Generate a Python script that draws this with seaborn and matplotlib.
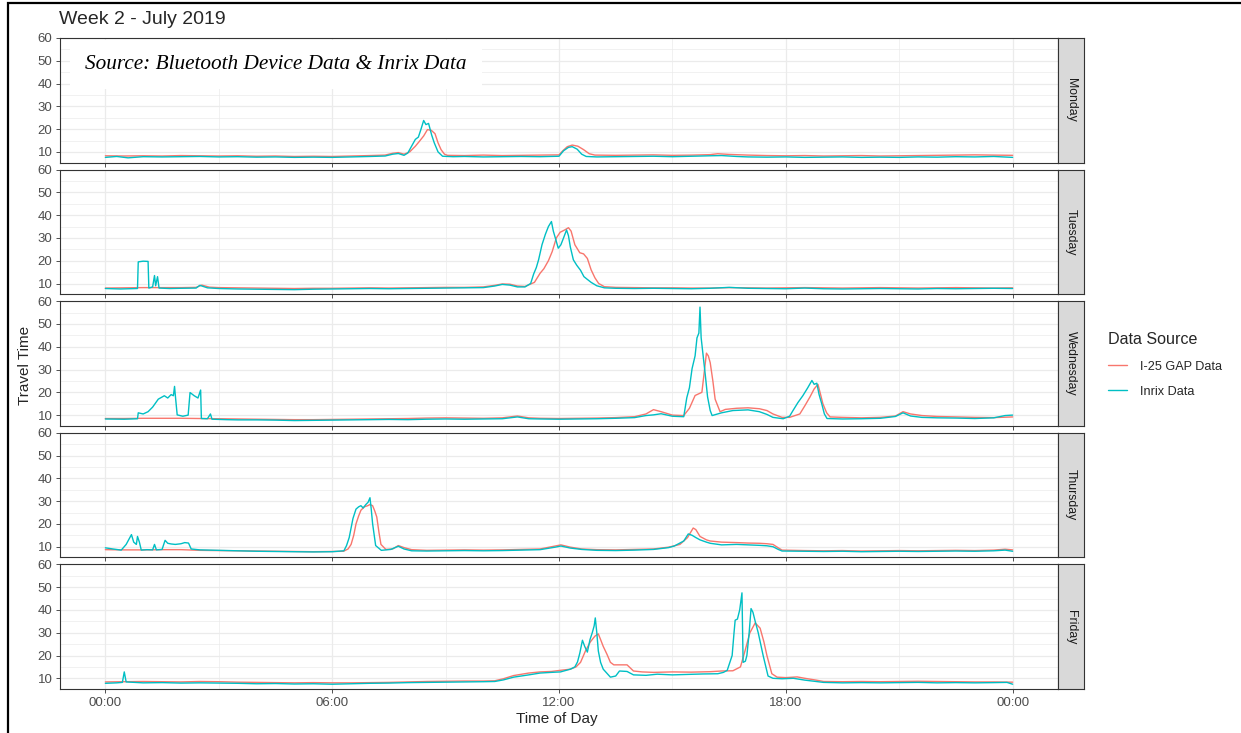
import pandas as pd
import numpy as np
import seaborn as sns
import matplotlib.pyplot as plt
from matplotlib.lines import Line2D
from matplotlib.patches import Rectangle

#%% data (hour of day, travel time in minutes)

days = ["Monday", "Tuesday", "Wednesday", "Thursday", "Friday"]
sources = ["I-25 GAP Data", "Inrix Data"]
palette = ["#F8766D", "#00BFC4"]
x_ticks = [0, 6, 12, 18, 24]
x_tick_labels = ["00:00", "06:00", "12:00", "18:00", "00:00"]
y_ticks = [10, 20, 30, 40, 50, 60]

mon_gap = [(0, 8.3), (0.5, 8.2), (1, 8.3), (1.5, 8.2), (2, 8.4), (2.5, 8.3), (3, 8.2), (3.5, 8.3),
           (4, 8.1), (4.5, 8.2), (5, 8.0), (5.5, 8.1), (6, 8.0), (6.5, 8.2), (7, 8.4), (7.4, 8.6),
           (7.6, 9.4), (7.75, 9.7), (7.9, 9.0), (8.05, 10.0), (8.2, 12.5), (8.3, 14.5), (8.42, 17.0),
           (8.52, 19.8), (8.62, 19.5), (8.72, 18.0), (8.8, 14.0), (8.88, 11.0), (8.97, 9.0), (9.05, 8.5),
           (9.5, 8.4), (10, 8.6), (10.5, 8.4), (11, 8.5), (11.5, 8.6), (12.0, 8.7), (12.1, 10.5),
           (12.22, 12.3), (12.35, 13.0), (12.5, 12.5), (12.65, 11.0), (12.8, 9.2), (12.95, 8.6),
           (13.5, 8.5), (14, 8.6), (14.5, 8.7), (15, 8.5), (15.5, 8.6), (16, 8.8), (16.2, 9.2),
           (16.5, 8.9), (17, 8.6), (17.5, 8.4), (18, 8.3), (18.5, 8.4), (19, 8.2), (19.5, 8.3),
           (20, 8.4), (20.5, 8.2), (21, 8.3), (21.5, 8.4), (22, 8.5), (22.5, 8.6), (23, 8.7),
           (23.5, 8.6), (24, 8.5)]
mon_inrix = [(0, 7.6), (0.3, 8.0), (0.6, 7.4), (1, 7.9), (1.5, 7.8), (2, 7.9), (2.5, 8.0), (3, 7.8),
             (3.5, 7.9), (4, 7.7), (4.5, 7.8), (5, 7.6), (5.5, 7.7), (6, 7.6), (6.5, 7.8), (7, 8.0),
             (7.4, 8.2), (7.6, 9.0), (7.75, 9.3), (7.9, 8.5), (8.0, 9.5), (8.1, 12.5), (8.2, 15.5),
             (8.28, 16.5), (8.35, 20.0), (8.42, 23.8), (8.48, 22.0), (8.55, 22.5), (8.63, 17.5),
             (8.7, 14.0), (8.8, 10.0), (8.92, 8.1), (9.2, 7.9), (9.5, 8.0), (10, 7.8), (10.5, 7.9),
             (11, 8.0), (11.5, 7.9), (12.0, 8.1), (12.12, 10.5), (12.25, 12.0), (12.35, 12.3),
             (12.48, 11.2), (12.6, 9.0), (12.72, 8.0), (13, 7.8), (13.5, 7.9), (14, 8.0), (14.5, 8.1),
             (15, 7.9), (15.5, 8.1), (16, 8.3), (16.3, 8.4), (16.7, 8.0), (17, 7.8), (17.5, 7.7),
             (18, 7.8), (18.5, 7.6), (19, 7.7), (19.5, 7.8), (20, 7.6), (20.5, 7.7), (21, 7.6),
             (21.5, 7.8), (22, 7.7), (22.5, 7.9), (23, 7.8), (23.5, 8.0), (24, 7.6)]

tue_gap = [(0, 8.0), (0.5, 8.1), (1, 8.2), (1.5, 8.2), (2, 8.2), (2.4, 8.3), (2.55, 9.3), (2.75, 8.4),
           (3, 8.2), (3.5, 8.1), (4, 8.0), (4.5, 7.9), (5, 7.8), (5.5, 7.9), (6, 7.9), (6.5, 8.0),
           (7, 8.1), (7.5, 8.0), (8, 8.1), (8.5, 8.2), (9, 8.3), (9.5, 8.3), (10, 8.5), (10.3, 9.2),
           (10.5, 9.8), (10.7, 9.7), (10.9, 8.9), (11.1, 8.7), (11.35, 10.5), (11.5, 14.5),
           (11.6, 16.5), (11.72, 20.0), (11.82, 24.0), (11.93, 30.0), (12.03, 32.5), (12.15, 33.5),
           (12.25, 34.5), (12.32, 33.0), (12.42, 27.0), (12.55, 23.5), (12.65, 23.0), (12.75, 21.0),
           (12.85, 16.0), (12.95, 12.5), (13.05, 10.0), (13.2, 8.6), (13.5, 8.3), (14, 8.2),
           (14.5, 8.1), (15, 8.1), (15.5, 8.0), (16, 8.0), (16.5, 8.2), (17, 8.1), (17.5, 8.0),
           (18, 8.1), (18.5, 8.2), (19, 8.1), (19.5, 8.0), (20, 8.1), (20.5, 8.2), (21, 8.1),
           (21.5, 8.0), (22, 8.1), (22.5, 8.2), (23, 8.1), (23.5, 8.0), (24, 8.1)]
tue_inrix = [(0, 7.8), (0.4, 7.6), (0.85, 7.8), (0.87, 19.5), (1.0, 19.8), (1.13, 19.7), (1.15, 8.0),
             (1.25, 8.5), (1.3, 13.5), (1.33, 9.0), (1.38, 13.0), (1.42, 8.0), (1.7, 7.8), (2.0, 7.9),
             (2.4, 8.0), (2.5, 9.2), (2.7, 8.1), (3, 7.8), (3.5, 7.6), (4, 7.5), (4.5, 7.4), (5, 7.3),
             (5.5, 7.5), (6, 7.6), (6.5, 7.7), (7, 7.8), (7.5, 7.7), (8, 7.8), (8.5, 7.9), (9, 8.0),
             (9.5, 8.1), (10, 8.2), (10.3, 8.9), (10.5, 9.6), (10.7, 9.3), (10.9, 8.5), (11.1, 8.5),
             (11.25, 10.0), (11.33, 14.2), (11.4, 17.0), (11.46, 20.4), (11.55, 27.0), (11.64, 31.6),
             (11.72, 35.0), (11.8, 37.2), (11.85, 33.0), (11.92, 29.0), (11.98, 25.5), (12.05, 27.0),
             (12.12, 30.0), (12.2, 33.5), (12.25, 31.0), (12.3, 26.0), (12.38, 20.4), (12.47, 18.0),
             (12.57, 15.8), (12.66, 13.0), (12.75, 11.8), (12.85, 10.5), (13.0, 9.0), (13.2, 8.1),
             (13.5, 7.9), (14, 7.8), (14.5, 7.9), (15, 7.8), (15.5, 7.7), (16, 7.9), (16.5, 8.3),
             (17, 7.9), (17.5, 7.8), (18, 7.7), (18.5, 8.0), (19, 7.7), (19.5, 7.6), (20, 7.7),
             (20.5, 7.8), (21, 7.7), (21.5, 7.6), (22, 7.8), (22.5, 7.7), (23, 7.8), (23.5, 7.9),
             (24, 7.8)]

wed_gap = [(0, 8.5), (0.5, 8.5), (1, 8.6), (1.5, 8.6), (2, 8.6), (2.5, 8.5), (3, 8.4), (3.5, 8.3),
           (4, 8.2), (4.5, 8.1), (5, 8.0), (5.5, 8.0), (6, 8.1), (6.5, 8.2), (7, 8.3), (7.5, 8.4),
           (8, 8.5), (8.5, 8.7), (9, 8.8), (9.5, 8.7), (10, 8.6), (10.5, 8.8), (10.9, 9.6), (11.2, 8.8),
           (11.5, 8.6), (12, 8.5), (12.5, 8.6), (13, 8.7), (13.5, 8.9), (14, 9.3), (14.3, 10.5),
           (14.5, 12.4), (14.7, 11.5), (15.0, 10.0), (15.3, 9.8), (15.45, 13.0), (15.6, 18.6),
           (15.78, 20.0), (15.85, 30.0), (15.9, 37.2), (15.95, 36.0), (16.0, 33.0), (16.07, 25.0),
           (16.13, 17.0), (16.26, 11.5), (16.4, 12.5), (16.7, 13.0), (17.0, 13.2), (17.3, 12.8),
           (17.5, 12.0), (17.66, 10.5), (17.9, 9.0), (18.1, 9.0), (18.37, 10.5), (18.5, 14.0),
           (18.64, 18.0), (18.75, 21.5), (18.85, 23.5), (18.92, 19.0), (18.98, 15.0), (19.08, 11.0),
           (19.17, 9.2), (19.5, 9.0), (20, 8.8), (20.5, 9.0), (20.9, 9.6), (21.1, 11.5), (21.3, 10.5),
           (21.6, 9.8), (22, 9.4), (22.5, 9.2), (23, 9.0), (23.5, 8.9), (24, 9.2)]
wed_inrix = [(0, 8.3), (0.5, 8.2), (0.85, 8.4), (0.87, 11.0), (1.0, 10.5), (1.13, 11.5), (1.25, 13.5),
             (1.4, 17.0), (1.56, 18.5), (1.65, 17.5), (1.74, 19.0), (1.8, 18.5), (1.83, 22.6),
             (1.86, 17.0), (1.9, 10.1), (2.05, 9.5), (2.19, 10.0), (2.24, 19.9), (2.35, 18.5),
             (2.45, 17.5), (2.52, 21.0), (2.54, 8.5), (2.7, 8.4), (2.78, 10.5), (2.82, 8.2), (3.2, 8.0),
             (3.5, 7.9), (4, 7.9), (4.5, 7.8), (5, 7.6), (5.5, 7.7), (6, 7.8), (6.5, 7.9), (7, 8.0),
             (7.5, 8.1), (8, 8.0), (8.5, 8.2), (9, 8.3), (9.5, 8.2), (10, 8.3), (10.5, 8.4), (10.9, 9.2),
             (11.2, 8.4), (11.5, 8.3), (12, 8.2), (12.5, 8.3), (13, 8.4), (13.5, 8.6), (14, 8.9),
             (14.3, 9.8), (14.5, 10.1), (14.7, 10.6), (15.0, 9.5), (15.3, 9.3), (15.38, 17.6),
             (15.45, 22.0), (15.52, 30.4), (15.6, 36.0), (15.65, 43.9), (15.7, 46.0), (15.73, 57.4),
             (15.76, 44.0), (15.8, 38.0), (15.87, 27.6), (15.93, 18.0), (16.0, 12.0), (16.05, 9.8),
             (16.3, 11.0), (16.6, 12.0), (17.0, 12.3), (17.3, 11.5), (17.5, 10.3), (17.66, 9.0),
             (17.93, 8.4), (18.1, 9.5), (18.19, 12.0), (18.32, 15.5), (18.45, 18.5), (18.58, 22.0),
             (18.69, 25.2), (18.75, 23.5), (18.82, 24.0), (18.88, 19.0), (18.95, 15.0), (19.02, 10.5),
             (19.09, 8.5), (19.5, 8.3), (20, 8.4), (20.5, 8.6), (20.9, 9.4), (21.1, 11.0), (21.3, 9.6),
             (21.6, 9.0), (22, 8.8), (22.5, 8.7), (23, 8.5), (23.5, 8.8), (23.8, 9.8), (24, 10.0)]

thu_gap = [(0, 8.7), (0.5, 8.6), (1, 8.6), (1.5, 8.7), (2, 8.7), (2.5, 8.4), (3, 8.3), (3.5, 8.2),
           (4, 8.1), (4.5, 8.0), (5, 7.9), (5.5, 7.8), (6, 7.9), (6.3, 8.0), (6.42, 9.0), (6.5, 11.0),
           (6.57, 15.0), (6.63, 20.0), (6.7, 23.5), (6.76, 26.0), (6.85, 27.5), (6.94, 28.0),
           (7.0, 28.5), (7.07, 28.0), (7.13, 25.5), (7.18, 23.0), (7.24, 16.0), (7.29, 11.0),
           (7.42, 8.8), (7.6, 9.0), (7.75, 10.5), (7.9, 9.6), (8.1, 8.7), (8.5, 8.4), (9, 8.5),
           (9.5, 8.6), (10, 8.5), (10.5, 8.6), (11, 8.8), (11.5, 9.0), (11.9, 10.3), (12.05, 10.8),
           (12.3, 9.8), (12.6, 9.0), (13, 8.7), (13.5, 8.6), (14, 8.8), (14.5, 9.0), (14.9, 9.8),
           (15.2, 11.0), (15.4, 14.0), (15.55, 18.2), (15.62, 17.5), (15.73, 14.5), (15.9, 13.0),
           (16.0, 12.5), (16.3, 12.0), (16.7, 11.8), (17.0, 11.6), (17.3, 11.5), (17.5, 11.3),
           (17.66, 11.0), (17.8, 9.5), (17.9, 8.5), (18.5, 8.3), (19, 8.2), (19.5, 8.3), (20, 8.1),
           (20.5, 8.2), (21, 8.3), (21.5, 8.2), (22, 8.3), (22.5, 8.4), (23, 8.3), (23.5, 8.5),
           (23.8, 8.9), (24, 8.6)]
thu_inrix = [(0, 9.5), (0.2, 9.0), (0.42, 8.5), (0.55, 11.0), (0.69, 15.3), (0.75, 12.0), (0.82, 11.0),
             (0.85, 14.5), (0.9, 12.0), (0.95, 8.5), (1.1, 8.7), (1.25, 8.6), (1.3, 11.0), (1.35, 8.6),
             (1.5, 8.8), (1.58, 12.8), (1.65, 11.5), (1.74, 11.2), (1.85, 11.0), (2.0, 11.3),
             (2.1, 11.8), (2.2, 11.6), (2.27, 9.0), (2.5, 8.6), (3, 8.4), (3.5, 8.2), (4, 8.0),
             (4.5, 7.9), (5, 7.8), (5.5, 7.7), (6, 7.8), (6.31, 8.2), (6.38, 10.5), (6.45, 14.0),
             (6.55, 22.4), (6.63, 26.5), (6.7, 27.5), (6.76, 28.0), (6.82, 27.0), (6.89, 28.5),
             (6.95, 29.5), (7.0, 31.5), (7.03, 27.0), (7.07, 20.0), (7.15, 10.5), (7.3, 8.4),
             (7.55, 8.8), (7.75, 10.2), (7.9, 9.0), (8.1, 8.2), (8.5, 8.1), (9, 8.2), (9.5, 8.3),
             (10, 8.2), (10.5, 8.3), (11, 8.5), (11.5, 8.7), (11.9, 9.8), (12.05, 10.3), (12.3, 9.4),
             (12.6, 8.8), (13, 8.4), (13.5, 8.3), (14, 8.5), (14.5, 8.8), (14.9, 9.6), (15.05, 10.3),
             (15.3, 12.5), (15.42, 15.6), (15.52, 15.0), (15.62, 14.0), (15.73, 13.0), (15.9, 12.0),
             (16.0, 11.5), (16.3, 10.8), (16.7, 11.0), (17.0, 10.8), (17.3, 10.6), (17.5, 10.4),
             (17.66, 10.0), (17.8, 8.8), (17.9, 8.1), (18.5, 8.0), (19, 7.9), (19.5, 8.0), (20, 7.8),
             (20.5, 7.9), (21, 8.0), (21.5, 7.9), (22, 8.0), (22.5, 8.1), (23, 8.0), (23.5, 8.2),
             (23.8, 8.5), (24, 8.0)]

fri_gap = [(0, 8.4), (0.5, 8.5), (1, 8.6), (1.5, 8.5), (2, 8.4), (2.5, 8.6), (3, 8.5), (3.5, 8.3),
           (4, 8.2), (4.5, 8.1), (5, 8.0), (5.5, 8.1), (6, 8.0), (6.5, 8.0), (7, 8.1), (7.5, 8.2),
           (8, 8.4), (8.5, 8.6), (9, 8.7), (9.5, 8.8), (10, 8.8), (10.3, 8.9), (10.53, 9.8),
           (10.8, 11.2), (11.2, 12.3), (11.5, 12.8), (11.8, 13.0), (12.04, 13.5), (12.3, 14.0),
           (12.45, 15.0), (12.57, 17.0), (12.7, 22.0), (12.83, 26.0), (12.95, 28.5), (13.04, 29.5),
           (13.1, 27.0), (13.17, 24.0), (13.27, 20.5), (13.36, 17.0), (13.45, 15.9), (13.8, 15.9),
           (13.97, 13.2), (14.2, 12.8), (14.5, 12.6), (15.0, 12.8), (15.5, 12.7), (16.0, 12.9),
           (16.3, 13.2), (16.6, 13.3), (16.8, 15.0), (16.92, 22.0), (17.05, 30.0), (17.19, 34.3),
           (17.32, 32.0), (17.42, 26.0), (17.5, 20.0), (17.63, 12.0), (17.77, 10.5), (18.0, 10.3),
           (18.3, 10.6), (18.5, 10.0), (18.8, 9.2), (19.0, 8.6), (19.5, 8.5), (20, 8.6), (20.5, 8.5),
           (21, 8.6), (21.5, 8.7), (22, 8.6), (22.5, 8.5), (23, 8.4), (23.5, 8.4), (24, 8.3)]
fri_inrix = [(0, 7.8), (0.3, 8.0), (0.45, 8.2), (0.5, 12.8), (0.55, 8.4), (1, 8.0), (1.5, 8.1),
             (2, 7.9), (2.5, 8.0), (3, 7.9), (3.5, 7.8), (4, 7.6), (4.5, 7.7), (5, 7.5), (5.5, 7.6),
             (6, 7.4), (6.5, 7.6), (7, 7.8), (7.5, 7.9), (8, 8.1), (8.5, 8.2), (9, 8.3), (9.5, 8.4),
             (10, 8.5), (10.3, 8.6), (10.53, 9.3), (10.8, 10.5), (11.2, 11.5), (11.5, 12.3),
             (11.8, 12.6), (12.04, 12.8), (12.3, 14.0), (12.42, 15.0), (12.49, 17.2), (12.55, 21.0),
             (12.62, 26.7), (12.68, 24.0), (12.75, 21.5), (12.82, 27.0), (12.88, 30.0), (12.93, 33.0),
             (12.96, 36.5), (13.0, 30.0), (13.04, 22.0), (13.1, 17.0), (13.17, 14.0), (13.36, 10.5),
             (13.5, 11.0), (13.6, 13.2), (13.8, 13.0), (13.97, 11.5), (14.3, 11.3), (14.6, 11.8),
             (15.0, 11.5), (15.4, 11.7), (15.8, 11.9), (16.2, 12.0), (16.35, 12.6), (16.45, 13.5),
             (16.58, 20.0), (16.63, 30.0), (16.66, 35.5), (16.72, 36.0), (16.78, 40.0), (16.84, 47.5),
             (16.87, 17.0), (16.93, 17.5), (16.97, 20.0), (17.03, 30.0), (17.08, 40.6), (17.13, 39.0),
             (17.19, 35.0), (17.27, 30.0), (17.4, 20.0), (17.53, 11.0), (17.66, 10.0), (17.9, 9.8),
             (18.2, 10.0), (18.5, 9.2), (18.8, 8.6), (19.0, 8.2), (19.5, 8.0), (20, 8.1), (20.5, 8.0),
             (21, 8.1), (21.5, 8.2), (22, 8.0), (22.5, 8.1), (23, 8.0), (23.5, 8.1), (23.85, 8.2),
             (24, 7.4)]

series = {
    "Monday": (mon_gap, mon_inrix),
    "Tuesday": (tue_gap, tue_inrix),
    "Wednesday": (wed_gap, wed_inrix),
    "Thursday": (thu_gap, thu_inrix),
    "Friday": (fri_gap, fri_inrix),
}


def day_frame(day):
    rows = []
    for src, pts in zip(sources, series[day]):
        for h, v in pts:
            rows.append({"hour": h, "travel": v, "source": src})
    return pd.DataFrame(rows)


#%% plot

sns.set_theme(style="white")
plt.rcParams["font.family"] = ["Liberation Sans", "DejaVu Sans"]

W, H = 1241, 733
fig, axes = plt.subplots(5, 1, figsize=(W / 100, H / 100), dpi=100, sharex=True)
fig.subplots_adjust(left=60 / W, right=1058 / W, top=1 - 38 / H, bottom=1 - 689 / H, hspace=0.056)

grid_col = "#EBEBEB"
for ax, day in zip(axes, days):
    df = day_frame(day)
    sns.lineplot(data=df, x="hour", y="travel", hue="source", hue_order=sources,
                 palette=palette, estimator=None, errorbar=None, legend=False,
                 linewidth=1.0, ax=ax)
    ax.set_xlim(-1.2, 25.2)
    ax.set_ylim(5.3, 60)
    ax.set_xticks(x_ticks)
    ax.set_xticks([3, 9, 15, 21], minor=True)
    ax.set_yticks(y_ticks)
    ax.set_yticks([15, 25, 35, 45, 55], minor=True)
    ax.grid(which="major", color=grid_col, lw=0.9)
    ax.grid(which="minor", color=grid_col, lw=0.5)
    ax.set_axisbelow(True)
    for s in ax.spines.values():
        s.set_color("#333333")
        s.set_linewidth(0.8)
    ax.tick_params(axis="both", which="major", length=3, width=0.6, color="#333333",
                   labelcolor="#4D4D4D", labelsize=9.5, pad=2.5, bottom=True, left=True)
    ax.tick_params(which="minor", length=0)
    ax.set_xlabel("")
    ax.set_ylabel("")

    # facet strip on the right
    strip = ax.inset_axes([1.0, 0.0, 26 / 998, 1.0])
    strip.set_facecolor("#D9D9D9")
    strip.set_xticks([])
    strip.set_yticks([])
    for s in strip.spines.values():
        s.set_color("#333333")
        s.set_linewidth(0.8)
    strip.text(0.5, 0.5, day, rotation=270, ha="center", va="center",
               fontsize=8.8, color="#1A1A1A", transform=strip.transAxes)

axes[-1].set_xticklabels(x_tick_labels)

axes[0].text((276 - 60) / 998, 0.785, "Source: Bluetooth Device Data & Inrix Data",
             transform=axes[0].transAxes, ha="center", va="center", fontsize=15.3,
             family=["Liberation Serif", "DejaVu Serif"], style="italic", color="black",
             bbox=dict(boxstyle="square,pad=0.7", fc="white", ec="none"), clip_on=True, zorder=5)

fig.text(59 / W, 1 - 20 / H, "Week 2 - July 2019", fontsize=14, va="center", ha="left")
fig.text(25 / W, 1 - 365 / H, "Travel Time", fontsize=11, rotation=90, va="center", ha="center")
fig.text(557 / W, 1 - 719 / H, "Time of Day", fontsize=11, va="center", ha="center")

handles = [Line2D([], [], color=c, lw=1.0) for c in palette]
fig.legend(handles, sources, title="Data Source", loc="upper left",
           bbox_to_anchor=(1097 / W, 1 - 321 / H), frameon=False, fontsize=9.1,
           title_fontsize=11.6, handlelength=1.5, handletextpad=1.0, labelspacing=1.05,
           alignment="left")

# outer frame of the original screenshot
fig.patches.append(Rectangle((8 / W, -0.05), 1.2, 1.05 - 3 / H, transform=fig.transFigure,
                             fill=False, ec="black", lw=1.6))

plt.savefig("out.png", dpi=100)
